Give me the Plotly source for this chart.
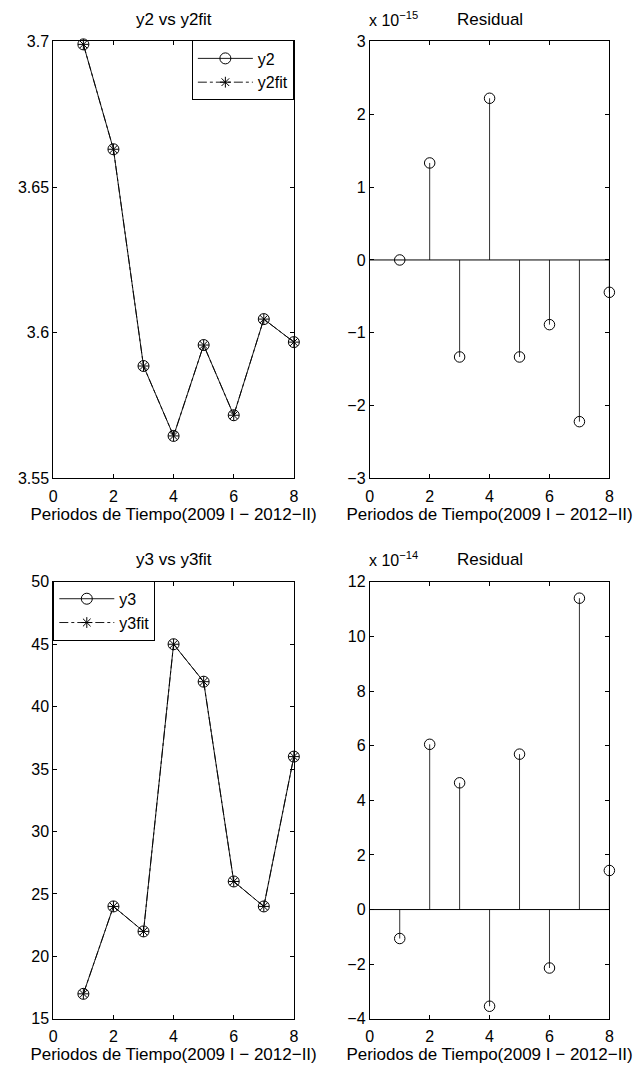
import numpy as np
import plotly.graph_objects as go

periods = [1, 2, 3, 4, 5, 6, 7, 8]
y2 = [3.699, 3.663, 3.5886, 3.5646, 3.5958, 3.5717, 3.6047, 3.5968]
y2fit = [3.699, 3.663, 3.5886, 3.5646, 3.5958, 3.5717, 3.6047, 3.5968]
res2 = [0.0, 1.332e-15, -1.332e-15, 2.22e-15, -1.332e-15, -0.888e-15, -2.22e-15, -0.444e-15]
y3 = [17, 24, 22, 45, 42, 26, 24, 36]
y3fit = [17, 24, 22, 45, 42, 26, 24, 36]
res3 = [-1.06e-14, 6.05e-14, 4.64e-14, -3.54e-14, 5.69e-14, -2.14e-14, 11.4e-14, 1.43e-14]
scale2 = 1e-15
scale3 = 1e-14
xtitle = "Periodos de Tiempo(2009 I \u2212 2012\u2212II)"

W, H = 640, 1078
FONT = "Liberation Sans, Arial, Helvetica, sans-serif"
FS = 17
TFS = 16

def px_x(p):
    return p / W

def px_y(p):
    return 1 - p / H

XL = [px_x(50), px_x(294)]
XR = [px_x(371), px_x(614)]
YT = [px_y(478), px_y(34)]
YB = [px_y(1027), px_y(583)]

fig = go.Figure()

# Top-left: y2 vs y2fit
fig.add_trace(go.Scatter(x=periods, y=y2, mode="lines+markers", name="y2",
                         line=dict(color="black", width=0.9),
                         marker=dict(symbol="circle-open", size=11, color="black", line=dict(width=1)),
                         xaxis="x", yaxis="y", legend="legend", cliponaxis=False))
fig.add_trace(go.Scatter(x=periods, y=y2fit, mode="lines+markers", name="y2fit",
                         line=dict(color="black", width=0.9, dash="dashdot"),
                         marker=dict(symbol="asterisk-open", size=9, color="black", line=dict(width=1, color="black")),
                         xaxis="x", yaxis="y", legend="legend", cliponaxis=False))

def stem_xy(xs, vals, sc):
    sx, sy = [], []
    for xv, v in zip(xs, vals):
        sx += [xv, xv, None]
        sy += [0, v / sc, None]
    return sx, sy

sx, sy = stem_xy(periods, res2, scale2)
fig.add_trace(go.Scatter(x=sx, y=sy, mode="lines", line=dict(color="#333333", width=1),
                         showlegend=False, xaxis="x2", yaxis="y2", hoverinfo="skip"))
fig.add_trace(go.Scatter(x=periods, y=[v / scale2 for v in res2], mode="markers",
                         marker=dict(symbol="circle-open", size=10.5, color="black", line=dict(width=1)),
                         showlegend=False, xaxis="x2", yaxis="y2", cliponaxis=False))

# Bottom-left
fig.add_trace(go.Scatter(x=periods, y=y3, mode="lines+markers", name="y3",
                         line=dict(color="black", width=0.9),
                         marker=dict(symbol="circle-open", size=11, color="black", line=dict(width=1)),
                         xaxis="x3", yaxis="y3", legend="legend2", cliponaxis=False))
fig.add_trace(go.Scatter(x=periods, y=y3fit, mode="lines+markers", name="y3fit",
                         line=dict(color="black", width=0.9, dash="dashdot"),
                         marker=dict(symbol="asterisk-open", size=9, color="black", line=dict(width=1, color="black")),
                         xaxis="x3", yaxis="y3", legend="legend2", cliponaxis=False))

sx, sy = stem_xy(periods, res3, scale3)
fig.add_trace(go.Scatter(x=sx, y=sy, mode="lines", line=dict(color="#333333", width=1),
                         showlegend=False, xaxis="x4", yaxis="y4", hoverinfo="skip"))
fig.add_trace(go.Scatter(x=periods, y=[v / scale3 for v in res3], mode="markers",
                         marker=dict(symbol="circle-open", size=10.5, color="black", line=dict(width=1)),
                         showlegend=False, xaxis="x4", yaxis="y4", cliponaxis=False))

ax_common = dict(showline=True, linecolor="black", linewidth=1, mirror="ticks",
                 ticks="inside", ticklen=4, tickcolor="black", showgrid=False, zeroline=False,
                 tickfont=dict(family=FONT, size=TFS, color="black"))

xticks = [0, 2, 4, 6, 8]
xax = dict(ax_common, range=[0, 8], tickvals=xticks, ticklabelstandoff=3,
           title=dict(text=xtitle, font=dict(family=FONT, size=FS, color="black"), standoff=3))

fig.update_layout(
    width=W, height=H, margin=dict(l=0, r=0, t=0, b=0),
    paper_bgcolor="white", plot_bgcolor="white",
    font=dict(family=FONT, size=FS, color="black"),
    xaxis=dict(xax, domain=XL, anchor="y"),
    yaxis=dict(ax_common, domain=YT, anchor="x", range=[3.55, 3.7],
               tickvals=[3.55, 3.6, 3.65, 3.7], ticktext=["3.55", "3.6", "3.65", "3.7"]),
    xaxis2=dict(xax, domain=XR, anchor="y2"),
    yaxis2=dict(ax_common, domain=YT, anchor="x2", range=[-3, 3], tickvals=[-3, -2, -1, 0, 1, 2, 3]),
    xaxis3=dict(xax, domain=XL, anchor="y3"),
    yaxis3=dict(ax_common, domain=YB, anchor="x3", range=[15, 50], tickvals=list(range(15, 51, 5))),
    xaxis4=dict(xax, domain=XR, anchor="y4"),
    yaxis4=dict(ax_common, domain=YB, anchor="x4", range=[-4, 12], tickvals=list(range(-4, 13, 2))),
    legend=dict(x=XL[1], y=px_y(33), xanchor="right", yanchor="top",
                bordercolor="black", borderwidth=1, bgcolor="white", itemwidth=55,
                font=dict(family=FONT, size=TFS, color="black"), tracegroupgap=0),
    legend2=dict(x=XL[0], y=px_y(582), xanchor="left", yanchor="top",
                 bordercolor="black", borderwidth=1, bgcolor="white", itemwidth=55,
                 font=dict(family=FONT, size=TFS, color="black"), tracegroupgap=0),
    showlegend=True,
)

# baselines of stem plots
for xr, yr in (("x2", "y2"), ("x4", "y4")):
    fig.add_shape(type="line", xref=xr + " domain", yref=yr, x0=0, x1=1, y0=0, y1=0,
                  line=dict(color="black", width=1))

def title_ann(text, xd, ybot_px):
    fig.add_annotation(text=text, xref="paper", yref="paper", x=(xd[0] + xd[1]) / 2,
                       y=px_y(ybot_px), xanchor="center", yanchor="bottom", showarrow=False,
                       font=dict(family=FONT, size=FS, color="black"))

title_ann("y2 vs y2fit", XL, 23)
title_ann("Residual", XR, 23)
title_ann("y3 vs y3fit", XL, 572)
title_ann("Residual", XR, 572)

for yp, ex in ((23, "\u221215"), (572, "\u221214")):
    fig.add_annotation(text="x 10<sup>" + ex + "</sup>", xref="paper", yref="paper",
                       x=XR[0] - 3 / W, y=px_y(yp), xanchor="left", yanchor="bottom", showarrow=False,
                       font=dict(family=FONT, size=FS - 1, color="black"))

fig.write_html("out.html")
